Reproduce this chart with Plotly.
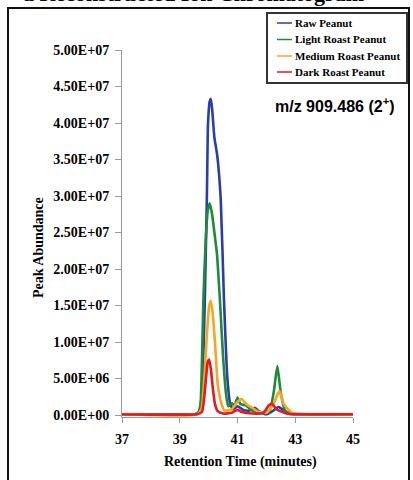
import plotly.graph_objects as go

# ---------------- data ----------------
series_names = ["Raw Peanut", "Light Roast Peanut", "Medium Roast Peanut", "Dark Roast Peanut"]
series_colors = ["#2a3ea6", "#1f8a3b", "#f5a626", "#e8191e"]

raw_t = [37.0, 39.5, 39.65, 39.72, 39.8, 39.87, 39.94, 39.98, 40.04, 40.08, 40.13, 40.2, 40.3,
         40.42, 40.53, 40.65, 40.75, 40.85, 41.0, 41.2, 41.4, 41.6, 41.75, 42.0, 42.2, 42.42,
         42.55, 42.75, 43.0, 45.0]
raw_v = [0.1e6, 0.1e6, 0.3e6, 1.2e6, 6.0e6, 1.6e7, 3.0e7, 4.0e7, 4.3e7, 4.33e7, 4.15e7, 3.8e7, 3.55e7,
         2.95e7, 1.6e7, 5.0e6, 1.5e6, 0.8e6, 1.2e6, 0.7e6, 0.6e6, 1.0e6, 0.5e6, 0.1e6, 0.5e6, 1.1e6,
         0.8e6, 0.2e6, 0.1e6, 0.1e6]

light_t = [37.0, 39.55, 39.65, 39.72, 39.76, 39.82, 39.9, 39.97, 40.04, 40.12, 40.2, 40.29, 40.39,
           40.5, 40.6, 40.68, 40.8, 40.9, 41.0, 41.1, 41.3, 41.5, 41.8, 42.1, 42.25, 42.38, 42.5,
           42.65, 42.9, 45.0]
light_v = [0.1e6, 0.1e6, 0.4e6, 1.5e6, 6.0e6, 1.6e7, 2.4e7, 2.8e7, 2.9e7, 2.75e7, 2.5e7, 2.2e7, 1.58e7,
           8.0e6, 3.0e6, 1.2e6, 1.6e6, 1.3e6, 2.4e6, 1.5e6, 1.3e6, 0.6e6, 0.3e6, 0.5e6, 3.0e6, 6.7e6, 3.0e6,
           0.6e6, 0.2e6, 0.1e6]

medium_t = [37.0, 39.6, 39.75, 39.85, 39.94, 40.02, 40.08, 40.15, 40.22, 40.32, 40.45, 40.55, 40.8,
            41.0, 41.15, 41.3, 41.5, 41.7, 42.0, 42.25, 42.45, 42.6, 42.75, 42.9, 43.2, 45.0]
medium_v = [0.1e6, 0.1e6, 0.8e6, 5.0e6, 1.1e7, 1.5e7, 1.56e7, 1.35e7, 1.0e7, 4.0e6, 1.5e6, 0.6e6, 0.8e6,
            1.8e6, 2.2e6, 1.5e6, 1.0e6, 0.5e6, 0.3e6, 1.5e6, 3.3e6, 1.5e6, 0.8e6, 0.3e6, 0.1e6, 0.1e6]

dark_t = [37.0, 39.6, 39.77, 39.85, 39.92, 39.97, 40.02, 40.08, 40.15, 40.22, 40.32, 40.5, 40.8,
          41.0, 41.15, 41.5, 41.9, 42.1, 42.2, 42.35, 42.5, 42.7, 43.0, 45.0]
dark_v = [0.1e6, 0.1e6, 0.4e6, 2.5e6, 5.5e6, 7.3e6, 7.6e6, 6.2e6, 3.5e6, 1.5e6, 0.5e6, 0.2e6, 0.3e6,
          0.7e6, 0.4e6, 0.2e6, 0.3e6, 1.4e6, 1.5e6, 0.8e6, 0.5e6, 0.2e6, 0.1e6, 0.1e6]

x_ticks = [37, 39, 41, 43, 45]
y_tick_vals = [0, 5e6, 1e7, 1.5e7, 2e7, 2.5e7, 3e7, 3.5e7, 4e7, 4.5e7, 5e7]
y_tick_text = ["0.00E+00", "5.00E+06", "1.00E+07", "1.50E+07", "2.00E+07", "2.50E+07",
               "3.00E+07", "3.50E+07", "4.00E+07", "4.50E+07", "5.00E+07"]

title_text = "a Reconstructed Ion Chromatogram"
x_title = "Retention Time (minutes)"
y_title = "Peak Abundance"
mz_text = "m/z 909.486 (2<sup>+</sup>)"

# ---------------- layout helpers ----------------
W, H = 413, 480
L, R, T, B = 122, 60, 50, 63
PW, PH = W - L - R, H - T - B


def px(xp):
    return (xp - L) / PW


def py(yp):
    return (H - B - yp) / PH


serif = "Liberation Serif"

fig = go.Figure()
all_t = [raw_t, light_t, medium_t, dark_t]
all_v = [raw_v, light_v, medium_v, dark_v]
for name, c, t, v in zip(series_names, series_colors, all_t, all_v):
    fig.add_trace(go.Scatter(x=t, y=v, mode="lines", name=name,
                             line=dict(color=c, width=2.6, shape="spline", smoothing=0.5),
                             showlegend=False))

fig.update_layout(
    width=W, height=H,
    margin=dict(l=L, r=R, t=T, b=B, pad=0),
    paper_bgcolor="white", plot_bgcolor="white",
    xaxis=dict(range=[37, 45], tickvals=x_ticks, showgrid=False, zeroline=False,
               showline=True, linecolor="#9a9a9a", linewidth=1,
               ticks="outside", ticklen=5, tickcolor="#9a9a9a", ticklabelstandoff=4,
               tickfont=dict(family=serif, size=14, color="black", weight="bold")),
    yaxis=dict(range=[-0.274e6, 5e7], tickvals=y_tick_vals, ticktext=y_tick_text,
               showgrid=False, zeroline=False,
               showline=True, linecolor="#9a9a9a", linewidth=1,
               ticks="outside", ticklen=6, tickcolor="#9a9a9a", ticklabelstandoff=3,
               tickfont=dict(family=serif, size=14, color="black", weight="bold")),
)


def anno(text, x, y, xa="center", ya="middle", **kw):
    d = dict(text=text, x=px(x), y=py(y), xref="paper", yref="paper",
             xanchor=xa, yanchor=ya, showarrow=False)
    d.update(kw)
    return d


annos = []
annos.append(anno(x_title, 240, 462, font=dict(family=serif, size=14, color="black", weight="bold")))
annos.append(anno(y_title, 38, 248, textangle=-90,
                  font=dict(family=serif, size=14, color="black", weight="bold")))
annos.append(anno(mz_text, 273, 105, xa="left",
                  font=dict(family="Liberation Sans", size=16, color="black", weight="bold")))
annos.append(anno(title_text, 193, 8.5, ya="bottom",
                  font=dict(family=serif, size=22, color="black", weight="bold")))

shapes = []
shapes.append(dict(type="rect", xref="paper", yref="paper", x0=px(8), x1=px(409), y0=py(490), y1=py(8),
                   line=dict(color="#111111", width=2), fillcolor="rgba(0,0,0,0)", layer="above"))
shapes.append(dict(type="rect", xref="paper", yref="paper", x0=px(267), x1=px(407), y0=py(83), y1=py(13),
                   line=dict(color="#333333", width=2), fillcolor="white", layer="above"))
leg_y = [23, 39.5, 56, 72]
for name, c, yy in zip(series_names, series_colors, leg_y):
    shapes.append(dict(type="line", xref="paper", yref="paper", x0=px(277), x1=px(292), y0=py(yy), y1=py(yy),
                       line=dict(color=c, width=1.5), layer="above"))
    annos.append(anno(name, 293, yy, xa="left",
                      font=dict(family=serif, size=11, color="black", weight="bold")))

fig.update_layout(annotations=annos, shapes=shapes)
fig.write_html("out.html")
